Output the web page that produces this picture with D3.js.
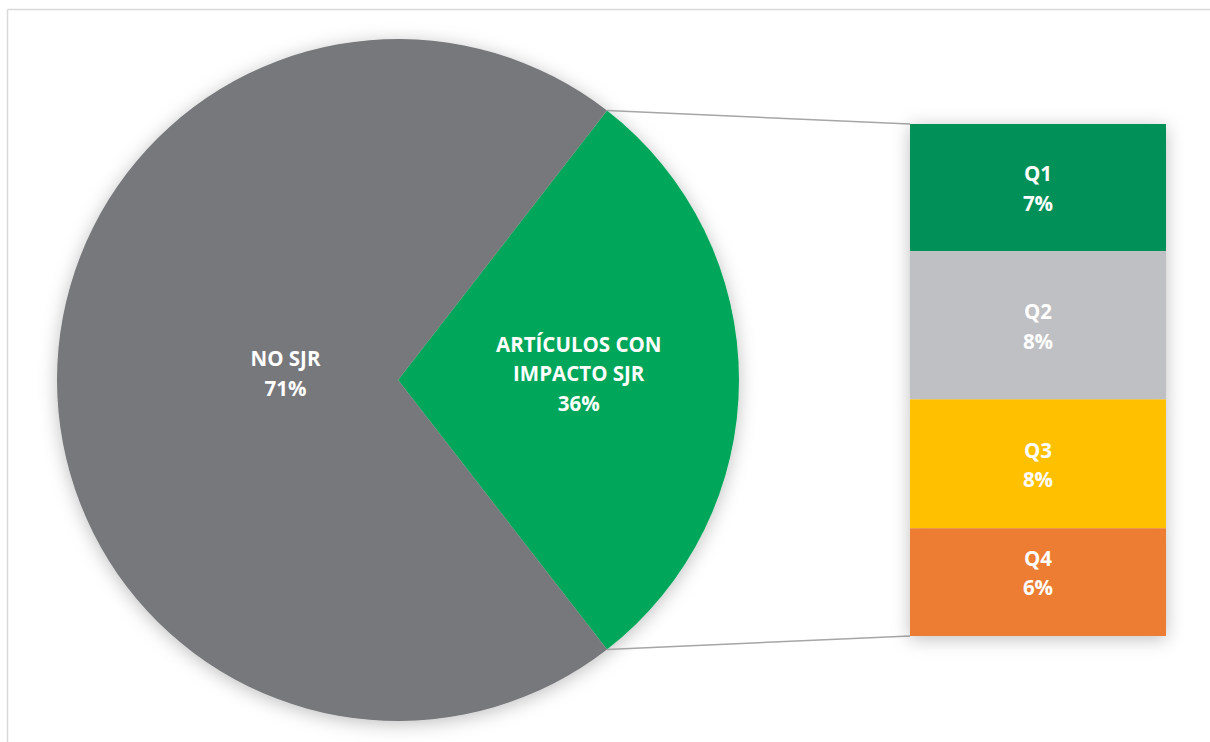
<!DOCTYPE html>
<html>
<head>
<meta charset="utf-8">
<script src="https://cdn.jsdelivr.net/npm/d3@7"></script>
<style>
  html, body { margin: 0; padding: 0; background: #fff; }
  svg { display: block; }
  text { font-family: "Open Sans", sans-serif; font-weight: 700; fill: #fff; }
</style>
</head>
<body>
<svg id="chart" width="1210" height="742"></svg>
<script>
// ---- data ----
const pieCategories = ["ARTÍCULOS CON IMPACTO SJR", "NO SJR"];
const pieValues = [29, 71];
const pieLabelLines = [["ARTÍCULOS CON", "IMPACTO SJR", "36%"], ["NO SJR", "71%"]];
const pieColors = ["#00A65A", "#77787B"];

const barCategories = ["Q1", "Q2", "Q3", "Q4"];
const barValues = [7.2, 8.4, 7.3, 6.1];
const barLabels = ["7%", "8%", "8%", "6%"];
const barColors = ["#009058", "#BFC0C3", "#FFC000", "#ED7D31"];

// ---- layout ----
const svg = d3.select("#chart");
const W = 1210, H = 742;
const cx = 398, cy = 380, R = 341;
const barX0 = 910, barX1 = 1166, barY0 = 124, barY1 = 636;
const fontSize = 20.5, lineH = 29.5;
const barLabelNudge = [0, 0, 0, -10];

// chart frame
svg.append("line").attr("x1", 7.5).attr("y1", 9.5).attr("x2", W).attr("y2", 9.5)
  .attr("stroke", "#D9D9D9").attr("stroke-width", 1.5);
svg.append("line").attr("x1", 7.5).attr("y1", 9.5).attr("x2", 7.5).attr("y2", H)
  .attr("stroke", "#D9D9D9").attr("stroke-width", 1.5);

// shadow filter
const defs = svg.append("defs");
const f = defs.append("filter").attr("id", "shadow")
  .attr("x", "-20%").attr("y", "-20%").attr("width", "140%").attr("height", "140%");
f.append("feDropShadow").attr("dx", 0).attr("dy", 3).attr("stdDeviation", 9)
  .attr("flood-color", "#000").attr("flood-opacity", 0.25);

// pie
const greenSpan = pieValues[0] / d3.sum(pieValues) * 2 * Math.PI;
const start = Math.PI / 2 - greenSpan / 2;
const pie = d3.pie().sort(null).value(d => d).startAngle(start).endAngle(start + 2 * Math.PI);
const arcs = pie(pieValues);
const arc = d3.arc().innerRadius(0).outerRadius(R);

const pieG = svg.append("g").attr("transform", `translate(${cx},${cy})`);
pieG.append("g").attr("filter", "url(#shadow)")
  .selectAll("path").data(arcs).join("path")
  .attr("d", arc).attr("fill", (d, i) => pieColors[i]);

// connector lines
const yScale = d3.scaleLinear().domain([0, d3.sum(barValues)]).range([barY0, barY1]);
const p1 = [cx + R * Math.sin(start), cy - R * Math.cos(start)];
const p2 = [cx + R * Math.sin(start + greenSpan), cy - R * Math.cos(start + greenSpan)];
svg.append("line").attr("x1", p1[0]).attr("y1", p1[1]).attr("x2", barX0).attr("y2", yScale(0))
  .attr("stroke", "#A6A6A6").attr("stroke-width", 1.5);
svg.append("line").attr("x1", p2[0]).attr("y1", p2[1]).attr("x2", barX0).attr("y2", yScale(d3.sum(barValues)))
  .attr("stroke", "#A6A6A6").attr("stroke-width", 1.5);

// pie labels
const labelFrac = [0.53, 0.33];
pieG.selectAll("text.pl").data(arcs).join("text").attr("class", "pl")
  .attr("text-anchor", "middle").attr("font-size", fontSize)
  .each(function(d, i) {
    const a = (d.startAngle + d.endAngle) / 2;
    const r = R * labelFrac[i];
    const x = r * Math.sin(a), y = -r * Math.cos(a) - 7;
    const lines = pieLabelLines[i];
    const t = d3.select(this);
    lines.forEach((ln, k) => {
      t.append("tspan").attr("x", x)
        .attr("y", y + 8 + (k - (lines.length - 1) / 2) * lineH)
        .text(ln);
    });
  });

// stacked bar
const stacked = [];
let acc = 0;
barValues.forEach((v, i) => { stacked.push({ i, y0: acc, y1: acc + v }); acc += v; });
const barG = svg.append("g");
barG.append("g").attr("filter", "url(#shadow)")
  .selectAll("rect").data(stacked).join("rect")
  .attr("x", barX0).attr("width", barX1 - barX0)
  .attr("y", d => yScale(d.y0)).attr("height", d => yScale(d.y1) - yScale(d.y0))
  .attr("fill", d => barColors[d.i]);

barG.selectAll("text").data(stacked).join("text")
  .attr("text-anchor", "middle").attr("font-size", fontSize)
  .each(function(d) {
    const x = (barX0 + barX1) / 2;
    const yc = (yScale(d.y0) + yScale(d.y1)) / 2 + barLabelNudge[d.i];
    const t = d3.select(this);
    t.append("tspan").attr("x", x).attr("y", yc + 8.5 - lineH / 2).text(barCategories[d.i]);
    t.append("tspan").attr("x", x).attr("y", yc + 8.5 + lineH / 2).text(barLabels[d.i]);
  });
</script>
</body>
</html>
